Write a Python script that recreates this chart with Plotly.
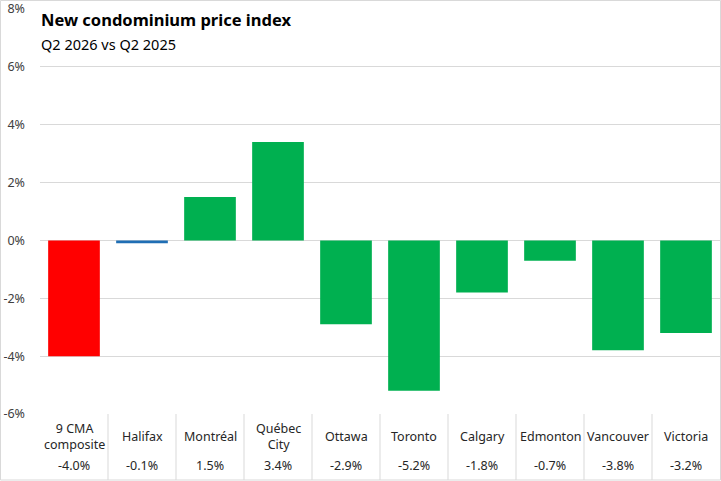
import plotly.graph_objects as go

categories = ["9 CMA<br>composite", "Halifax", "Montréal", "Québec<br>City", "Ottawa",
              "Toronto", "Calgary", "Edmonton", "Vancouver", "Victoria"]
values = [-4.0, -0.1, 1.5, 3.4, -2.9, -5.2, -1.8, -0.7, -3.8, -3.2]
value_labels = ["-4.0%", "-0.1%", "1.5%", "3.4%", "-2.9%", "-5.2%", "-1.8%", "-0.7%", "-3.8%", "-3.2%"]
colors = ["#FF0000", "#1F6EB4"] + ["#00B050"] * 8
y_ticks = [-6, -4, -2, 0, 2, 4, 6, 8]
y_tick_labels = ["-6%", "-4%", "-2%", "0%", "2%", "4%", "6%", "8%"]

W, H = 721, 481
ML, MR, MT, MB = 40, 1, 9, 67
PW, PH = W - ML - MR, H - MT - MB

def px(x):
    return (x - ML) / PW

def py(y):
    return (H - MB - y) / PH

FONT = "Noto Sans"
n = len(categories)
xs = list(range(n))

fig = go.Figure()
fig.add_trace(go.Bar(x=xs, y=values, marker=dict(color=colors, line=dict(width=0)),
                     width=0.76, hoverinfo="skip"))

shapes = []
# outer border
shapes.append(dict(type="rect", xref="paper", yref="paper", x0=px(0.5), x1=px(720.5),
                   y0=py(480), y1=py(0.5), line=dict(color="#D9D9D9", width=1)))
# table lines
for i in range(1, n):
    shapes.append(dict(type="line", xref="x", yref="paper", x0=i - 0.5, x1=i - 0.5,
                       y0=py(480), y1=0, line=dict(color="#D9D9D9", width=1)))

annotations = []
for i in range(n):
    annotations.append(dict(x=i, xref="x", y=py(436), yref="paper", text=categories[i],
                            showarrow=False, font=dict(family=FONT, size=12.5, color="#262626"),
                            xanchor="center", yanchor="middle"))
    annotations.append(dict(x=i, xref="x", y=py(465), yref="paper", text=value_labels[i],
                            showarrow=False, font=dict(family=FONT, size=12.5, color="#262626"),
                            xanchor="center", yanchor="middle"))
annotations.append(dict(x=px(39), y=py(20), xref="paper", yref="paper",
                        text="<b>New condominium price index</b>", showarrow=False,
                        xanchor="left", yanchor="middle",
                        font=dict(family=FONT, size=16.5, color="#000000")))
annotations.append(dict(x=px(39), y=py(44), xref="paper", yref="paper",
                        text="Q2 2026 vs Q2 2025", showarrow=False,
                        xanchor="left", yanchor="middle",
                        font=dict(family=FONT, size=14.5, color="#000000")))

fig.update_layout(
    width=W, height=H,
    margin=dict(l=ML, r=MR, t=MT, b=MB),
    paper_bgcolor="white", plot_bgcolor="white",
    showlegend=False,
    shapes=shapes, annotations=annotations,
    bargap=0.24,
    xaxis=dict(range=[-0.5, n - 0.5], showticklabels=False, showgrid=False,
               zeroline=False, showline=False, fixedrange=True),
    yaxis=dict(range=[-6, 8], tickmode="array", tickvals=y_ticks, ticktext=y_tick_labels,
               showgrid=True, gridcolor="#D9D9D9", gridwidth=1,
               zeroline=True, zerolinecolor="#D9D9D9", zerolinewidth=1,
               showline=False, ticklabelstandoff=14,
               tickfont=dict(family=FONT, size=12.5, color="#404040"), fixedrange=True),
)

fig.write_html("out.html", config={"displayModeBar": False},
               post_script="document.body.style.margin='0';document.body.style.overflow='hidden';")
